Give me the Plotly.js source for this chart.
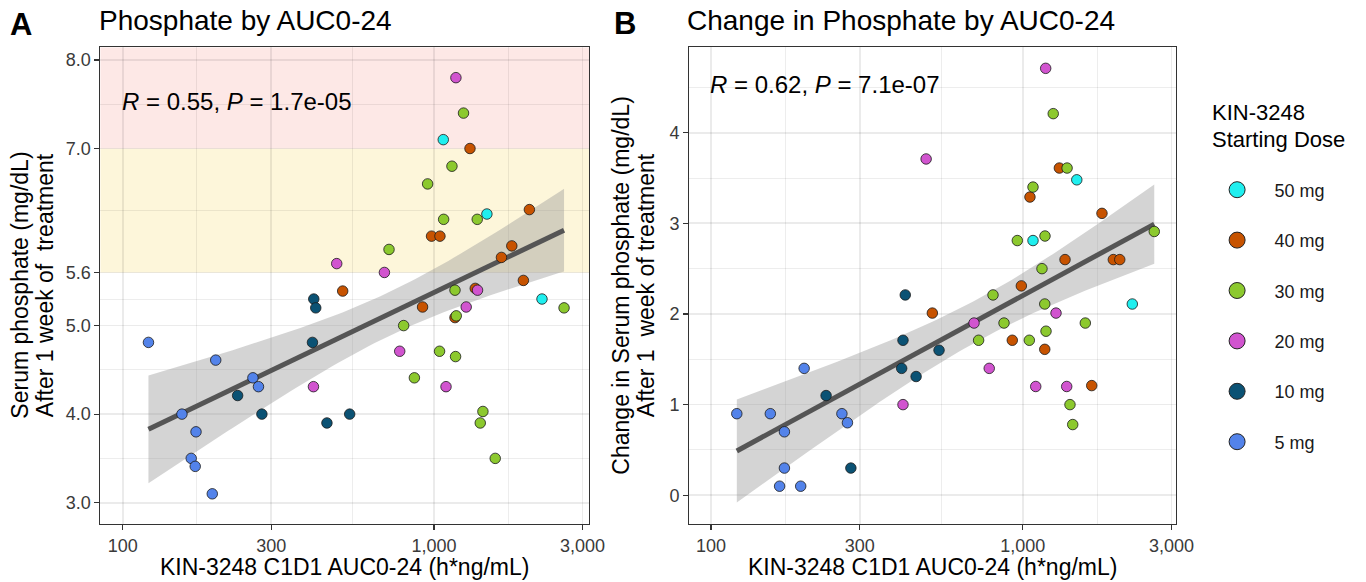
<!DOCTYPE html>
<html>
<head>
<meta charset="utf-8">
<script src="https://cdn.plot.ly/plotly-3.0.1.min.js"></script>
<style>
  html, body { margin: 0; padding: 0; background: #ffffff; }
  #chart { width: 1366px; height: 582px; }
</style>
</head>
<body>
<div id="chart"></div>
<script>
// ---------------- DATA ----------------
const doseLabels = ['50 mg', '40 mg', '30 mg', '20 mg', '10 mg', '5 mg'];

// Panel A: serum phosphate after 1 week (mg/dL) vs C1D1 AUC0-24 (h*ng/mL)
const aucA_50mg = [1071, 1479, 2223];
const phosA_50mg = [7.10, 6.26, 5.30];
const aucA_40mg = [1305, 2025, 982, 1045, 1778, 1647, 1937, 509, 919, 1357, 1168];
const phosA_40mg = [7.00, 6.31, 6.01, 6.01, 5.90, 5.77, 5.51, 5.39, 5.21, 5.42, 5.09];
const aucA_30mg = [1244, 1142, 954, 1074, 1377, 717, 1168, 2617, 1179, 799, 1042, 1173, 865, 1436, 1408, 1573];
const phosA_30mg = [7.40, 6.80, 6.60, 6.20, 6.20, 5.86, 5.40, 5.20, 5.11, 5.00, 4.71, 4.65, 4.41, 4.03, 3.90, 3.50];
const aucA_20mg = [1176, 487, 693, 1380, 1269, 776, 410, 1093];
const phosA_20mg = [7.80, 5.70, 5.60, 5.40, 5.21, 4.71, 4.31, 4.31];
const aucA_10mg = [411, 417, 407, 234, 280, 453, 536];
const phosA_10mg = [5.30, 5.20, 4.81, 4.21, 4.00, 3.90, 4.00];
const aucA_5mg = [121, 199, 262, 273, 155, 172, 166, 171, 194];
const phosA_5mg = [4.81, 4.61, 4.41, 4.31, 4.00, 3.80, 3.50, 3.41, 3.10];

// Panel B: change in serum phosphate (mg/dL) vs C1D1 AUC0-24 (h*ng/mL)
const aucB_50mg = [1491, 1079, 2247];
const chgB_50mg = [3.48, 2.81, 2.11];
const aucB_40mg = [1311, 1055, 1796, 1367, 1953, 2048, 990, 513, 926, 1177, 1665];
const chgB_40mg = [3.61, 3.29, 3.11, 2.60, 2.60, 2.60, 2.31, 2.01, 1.71, 1.61, 1.21];
const aucB_30mg = [1253, 1388, 1079, 2643, 961, 1179, 1153, 803, 1177, 871, 1588, 1188, 722, 1050, 1418, 1447];
const chgB_30mg = [4.21, 3.61, 3.40, 2.91, 2.81, 2.86, 2.50, 2.21, 2.11, 1.90, 1.90, 1.81, 1.71, 1.71, 1.00, 0.78];
const aucB_20mg = [1185, 490, 1279, 698, 781, 1101, 1384, 413];
const chgB_20mg = [4.71, 3.71, 2.01, 1.90, 1.40, 1.20, 1.20, 1.00];
const aucB_10mg = [420, 413, 539, 409, 455, 234, 281];
const chgB_10mg = [2.21, 1.71, 1.60, 1.40, 1.31, 1.10, 0.30];
const aucB_5mg = [199, 121, 155, 263, 274, 172, 172, 166, 194];
const chgB_5mg = [1.40, 0.90, 0.90, 0.90, 0.80, 0.70, 0.30, 0.10, 0.10];

// Tick labels
const xTickVals = [100, 300, 1000, 3000];
const xTickText = ['100', '300', '1,000', '3,000'];
const xMinorVals = [173.2, 547.7, 1732.1];
const yATickVals = [3.0, 4.0, 5.0, 5.6, 7.0, 8.0];
const yATickText = ['3.0', '4.0', '5.0', '5.6', '7.0', '8.0'];
const yAMinorVals = [3.5, 4.5, 5.3, 6.3, 7.5];
const yBTickVals = [0, 1, 2, 3, 4];
const yBTickText = ['0', '1', '2', '3', '4'];
const yBMinorVals = [0.5, 1.5, 2.5, 3.5, 4.5];

// Stats text
const statA = '<i>R</i> = 0.55, <i>P</i> = 1.7e-05';
const statB = '<i>R</i> = 0.62, <i>P</i> = 7.1e-07';

// Reference zones (mg/dL)
const zoneYellow = [5.6, 7.0];
const zoneRed = [7.0, 8.143];

// ---------------- STYLE ----------------
const doseColors = ['#1FEFEF', '#C75300', '#8CC92E', '#D154CF', '#0B5274', '#5383EA'];
const FONT = 'Liberation Sans, Arial, Helvetica, sans-serif';
const W = 1366, H = 582;
const px = v => v / W;
const py = v => 1 - v / H;
const GRID = 'rgba(0,0,0,0.078)';

const panelA = { l: 100.4, r: 589.3, t: 47.3, b: 524 };
const panelB = { l: 689.3, r: 1176, t: 47.3, b: 524 };

// ---------------- FIT ----------------
function lmFit(xs, ys) {
  const lx = xs.map(v => Math.log10(v));
  const n = lx.length;
  const mx = lx.reduce((a, b) => a + b, 0) / n;
  const my = ys.reduce((a, b) => a + b, 0) / n;
  let sxx = 0, sxy = 0;
  for (let i = 0; i < n; i++) { sxx += (lx[i] - mx) ** 2; sxy += (lx[i] - mx) * (ys[i] - my); }
  const b = sxy / sxx, a = my - b * mx;
  let sse = 0;
  for (let i = 0; i < n; i++) sse += (ys[i] - a - b * lx[i]) ** 2;
  const s2 = sse / (n - 2);
  const tq = 2.0066; // t(0.975, df = 52)
  const lo = Math.min(...lx), hi = Math.max(...lx);
  const gx = [], gy = [], up = [], dn = [];
  for (let k = 0; k < 80; k++) {
    const g = lo + (hi - lo) * k / 79;
    const yh = a + b * g;
    const se = Math.sqrt(s2 * (1 / n + (g - mx) ** 2 / sxx));
    gx.push(Math.pow(10, g)); gy.push(yh); up.push(yh + tq * se); dn.push(yh - tq * se);
  }
  return { gx, gy, up, dn };
}

const setsA = [[aucA_50mg, phosA_50mg], [aucA_40mg, phosA_40mg], [aucA_30mg, phosA_30mg],
               [aucA_20mg, phosA_20mg], [aucA_10mg, phosA_10mg], [aucA_5mg, phosA_5mg]];
const setsB = [[aucB_50mg, chgB_50mg], [aucB_40mg, chgB_40mg], [aucB_30mg, chgB_30mg],
               [aucB_20mg, chgB_20mg], [aucB_10mg, chgB_10mg], [aucB_5mg, chgB_5mg]];

function fitTraces(sets, xa, ya) {
  const allX = [].concat(...sets.map(s => s[0]));
  const allY = [].concat(...sets.map(s => s[1]));
  const f = lmFit(allX, allY);
  return [
    { type: 'scatter', mode: 'lines', x: f.gx.concat(f.gx.slice().reverse()),
      y: f.up.concat(f.dn.slice().reverse()), fill: 'toself',
      fillcolor: 'rgba(153,153,153,0.42)', line: { width: 0 }, hoverinfo: 'skip',
      showlegend: false, xaxis: xa, yaxis: ya },
    { type: 'scatter', mode: 'lines', x: f.gx, y: f.gy,
      line: { color: '#555555', width: 5 }, hoverinfo: 'skip',
      showlegend: false, xaxis: xa, yaxis: ya }
  ];
}

function pointTraces(sets, xa, ya) {
  return sets.map((s, i) => ({
    type: 'scatter', mode: 'markers', x: s[0], y: s[1], name: doseLabels[i],
    marker: { color: doseColors[i], size: 10.5, line: { color: '#1a1a1a', width: 0.8 } },
    showlegend: false, xaxis: xa, yaxis: ya
  }));
}

const legendTraces = doseLabels.map((lab, i) => ({
  type: 'scatter', mode: 'markers', x: [null], y: [null], name: lab, legendgroup: lab,
  marker: { color: doseColors[i], size: 16, line: { color: '#222', width: 1 } },
  showlegend: true, xaxis: 'x', yaxis: 'y'
}));

const traces = [].concat(
  fitTraces(setsA, 'x', 'y'), pointTraces(setsA, 'x', 'y'),
  fitTraces(setsB, 'x2', 'y2'), pointTraces(setsB, 'x2', 'y2'),
  legendTraces
);

function xAxis(panel, range, anchor) {
  return {
    type: 'log', domain: [px(panel.l), px(panel.r)], range: range, anchor: anchor,
    tickmode: 'array', tickvals: xTickVals, ticktext: xTickText,
    ticks: 'outside', ticklen: 5, tickwidth: 1.1, tickcolor: '#333',
    showline: true, mirror: true, linecolor: '#333', linewidth: 1.1,
    showgrid: true, gridcolor: GRID, gridwidth: 1.7, zeroline: false,
    minor: { tickmode: 'array', tickvals: xMinorVals, showgrid: true, gridcolor: GRID, gridwidth: 0.9, ticks: '' },
    tickfont: { family: FONT, size: 18, color: '#3a3a3a' }, fixedrange: true
  };
}
function yAxis(panel, range, anchor, tv, tt, mv) {
  return {
    type: 'linear', domain: [py(panel.b), py(panel.t)], range: range, anchor: anchor,
    tickmode: 'array', tickvals: tv, ticktext: tt,
    ticks: 'outside', ticklen: 5, tickwidth: 1.1, tickcolor: '#333',
    showline: true, mirror: true, linecolor: '#333', linewidth: 1.1,
    showgrid: true, gridcolor: GRID, gridwidth: 1.7, zeroline: false,
    minor: { tickmode: 'array', tickvals: mv, showgrid: true, gridcolor: GRID, gridwidth: 0.9, ticks: '' },
    tickfont: { family: FONT, size: 18, color: '#3a3a3a' }, fixedrange: true
  };
}

function ann(text, x, y, opts) {
  return Object.assign({ text: text, x: px(x), y: py(y), xref: 'paper', yref: 'paper',
    showarrow: false, xanchor: 'left', yanchor: 'middle',
    font: { family: FONT, size: 23, color: '#000' } }, opts || {});
}

const midA = (panelA.t + panelA.b) / 2;
const annotations = [
  ann('<b>A</b>', 8, 24.5, { font: { family: FONT, size: 31, color: '#000' } }),
  ann('Phosphate by AUC0-24', 97, 21, { font: { family: FONT, size: 28, color: '#000' } }),
  ann('<b>B</b>', 612, 24, { font: { family: FONT, size: 31, color: '#000' } }),
  ann('Change in Phosphate by AUC0-24', 685, 21, { font: { family: FONT, size: 28, color: '#000' } }),
  ann(statA, 119.5, 101.5, { font: { family: FONT, size: 24, color: '#000' } }),
  ann(statB, 708, 84.5, { font: { family: FONT, size: 24, color: '#000' } }),
  ann('KIN-3248 C1D1 AUC0-24 (h*ng/mL)', (panelA.l + panelA.r) / 2, 567, { xanchor: 'center' }),
  ann('KIN-3248 C1D1 AUC0-24 (h*ng/mL)', (panelB.l + panelB.r) / 2, 567, { xanchor: 'center' }),
  ann('Serum phosphate (mg/dL)', 20, midA, { xanchor: 'center', textangle: -90 }),
  ann('After 1 week of\u00a0 treatment', 44.5, midA, { xanchor: 'center', textangle: -90 }),
  ann('Change in Serum phosphate (mg/dL)', 621, midA, { xanchor: 'center', textangle: -90 }),
  ann('After 1\u00a0 week of treatment', 645.5, midA, { xanchor: 'center', textangle: -90 }),
  ann('KIN-3248', 1209.5, 112.5, { font: { family: FONT, size: 22, color: '#000' } }),
  ann('Starting Dose', 1209.5, 139.5, { font: { family: FONT, size: 22, color: '#000' } })
];

const shapes = [
  { type: 'rect', xref: 'paper', yref: 'y', x0: px(panelA.l), x1: px(panelA.r), y0: zoneYellow[0], y1: zoneYellow[1],
    fillcolor: '#FDF6DA', line: { width: 0 }, layer: 'below' },
  { type: 'rect', xref: 'paper', yref: 'y', x0: px(panelA.l), x1: px(panelA.r), y0: zoneRed[0], y1: zoneRed[1],
    fillcolor: '#FDE8E6', line: { width: 0 }, layer: 'below' }
];

const layout = {
  width: W, height: H,
  margin: { l: 0, r: 0, t: 0, b: 0, pad: 0 },
  paper_bgcolor: '#ffffff', plot_bgcolor: 'rgba(0,0,0,0)',
  font: { family: FONT, color: '#000' },
  xaxis: xAxis(panelA, [1.9284, 3.4989], 'y'),
  yaxis: yAxis(panelA, [2.759, 8.143], 'x', yATickVals, yATickText, yAMinorVals),
  xaxis2: xAxis(panelB, [1.9304, 3.4918], 'y2'),
  yaxis2: yAxis(panelB, [-0.317, 4.942], 'x2', yBTickVals, yBTickText, yBMinorVals),
  showlegend: true,
  legend: {
    x: px(1199.6), xanchor: 'left', y: py(171.5), yanchor: 'top',
    font: { family: FONT, size: 18, color: '#1a1a1a' },
    itemwidth: 65, tracegroupgap: 24, traceorder: 'grouped',
    bgcolor: 'rgba(0,0,0,0)', borderwidth: 0
  },
  annotations: annotations,
  shapes: shapes,
  hovermode: false
};

Plotly.newPlot('chart', traces, layout, { staticPlot: true, displayModeBar: false });
</script>
</body>
</html>
